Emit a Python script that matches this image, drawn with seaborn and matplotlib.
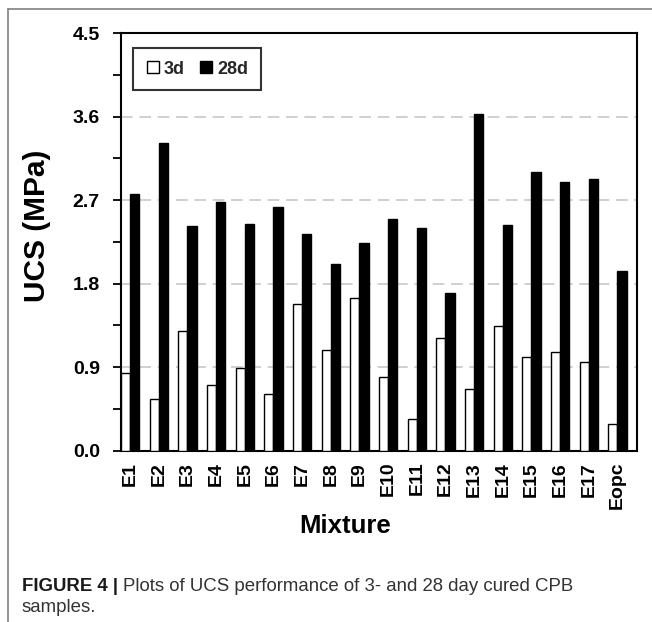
import matplotlib
matplotlib.use("Agg")
import matplotlib.pyplot as plt
from matplotlib.lines import Line2D
from matplotlib.ticker import MultipleLocator
import seaborn as sns
import pandas as pd

mixtures = ["E1", "E2", "E3", "E4", "E5", "E6", "E7", "E8", "E9", "E10",
            "E11", "E12", "E13", "E14", "E15", "E16", "E17", "Eopc"]
ucs_3d = [0.84, 0.56, 1.29, 0.71, 0.89, 0.61, 1.58, 1.09, 1.64, 0.79,
          0.34, 1.21, 0.67, 1.34, 1.01, 1.06, 0.96, 0.29]
ucs_28d = [2.77, 3.31, 2.42, 2.68, 2.44, 2.63, 2.33, 2.01, 2.24, 2.50,
           2.40, 1.70, 3.63, 2.43, 3.00, 2.90, 2.93, 1.94]
ages = ["3d", "28d"]
y_ticks = [0.0, 0.9, 1.8, 2.7, 3.6, 4.5]

df = pd.DataFrame({
    "Mixture": mixtures * 2,
    "UCS": ucs_3d + ucs_28d,
    "Age": [ages[0]] * len(mixtures) + [ages[1]] * len(mixtures),
})

sns.set_theme(style="white")
plt.rcParams["font.family"] = ["Liberation Sans", "DejaVu Sans"]

W, H = 652, 622
fig = plt.figure(figsize=(W / 100, H / 100), dpi=100)
left, right, top, bottom = 120.7, 636.7, 33.0, 450.7
ax = fig.add_axes([left / W, 1 - bottom / H, (right - left) / W, (bottom - top) / H])

sns.barplot(data=df, x="Mixture", y="UCS", hue="Age", order=mixtures,
            hue_order=ages, palette={"3d": "white", "28d": "black"},
            edgecolor="black", linewidth=1.0, width=0.65, gap=0,
            errorbar=None, legend=False, ax=ax, zorder=3)

ax.set_xlim(-0.33, len(mixtures) - 0.33)
ax.set_ylim(0, 4.5)
ax.set_yticks(y_ticks)
ax.set_yticklabels([f"{v:.1f}" for v in y_ticks])
ax.yaxis.set_minor_locator(MultipleLocator(0.45))

# dashed horizontal guides at the major levels
for v in y_ticks[1:-1]:
    ax.axhline(v, color="#c8c8c8", lw=1.2, ls=(0, (7, 4)), zorder=1)

for s in ax.spines.values():
    s.set_visible(True)
    s.set_color("black")
    s.set_linewidth(1.5)

ax.tick_params(axis="y", which="major", direction="out", length=6, width=1.3,
               color="black", left=True, pad=9, labelsize=14)
ax.tick_params(axis="y", which="minor", direction="out", length=6, width=1.3,
               color="black", left=True)
ax.tick_params(axis="x", which="both", length=0, pad=8, labelsize=14,
               labelrotation=90)
for lab in ax.get_yticklabels() + ax.get_xticklabels():
    lab.set_fontweight("bold")
    lab.set_color("black")

ax.set_ylabel("UCS (MPa)", fontsize=21.5, fontweight="bold", color="black")
ax.yaxis.set_label_coords(-0.135, 0.538)
ax.set_xlabel("Mixture", fontsize=18.5, fontweight="bold", color="black")
ax.xaxis.label.set_va("baseline")
ax.xaxis.set_label_coords(0.4347, -0.196)

handles = [
    Line2D([], [], marker="s", ls="", markersize=9, markerfacecolor="white",
           markeredgecolor="black", markeredgewidth=1.0),
    Line2D([], [], marker="s", ls="", markersize=9, markerfacecolor="black",
           markeredgecolor="black"),
]
leg = ax.legend(handles, ages, loc="upper left",
                bbox_to_anchor=((133 - left) / (right - left), (bottom - 48) / (bottom - top)),
                borderaxespad=0, ncol=2, frameon=True, fancybox=False,
                handlelength=0.8, handletextpad=0.2, columnspacing=0.8,
                borderpad=0.7, prop={"weight": "bold", "size": 13})
leg.get_frame().set_edgecolor("black")
leg.get_frame().set_linewidth(1.5)
leg.set_zorder(5)

# page frame lines
fig.add_artist(Line2D([8 / W, 1], [1 - 9 / H, 1 - 9 / H], color="#808080", lw=1.2))
fig.add_artist(Line2D([8 / W, 8 / W], [1 - 9 / H, 0], color="#808080", lw=1.2))

# caption
cap_x, cap_y1, cap_y2 = 22 / W, 1 - 591 / H, 1 - 612 / H
bold_part = fig.text(cap_x, cap_y1, "FIGURE 4 | ", fontsize=13.4,
                     fontweight="bold", color="#1a1a1a", va="baseline")
fig.canvas.draw()
bb = bold_part.get_window_extent(renderer=fig.canvas.get_renderer())
fig.text(bb.x1 / W, cap_y1,
         "Plots of UCS performance of 3- and 28 day cured CPB",
         fontsize=13.4, color="#333333", va="baseline")
fig.text(cap_x, cap_y2, "samples.", fontsize=13.4, color="#333333",
         va="baseline")

fig.savefig("out.png", dpi=100)
